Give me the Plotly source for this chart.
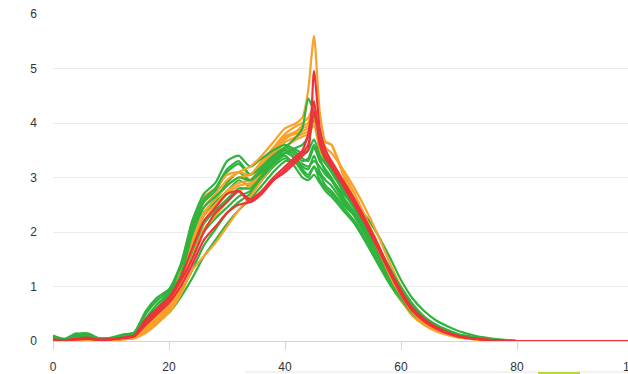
import plotly.graph_objects as go

x_vals = [0, 2, 4, 6, 8, 10, 12, 14, 16, 18, 20, 22, 24, 26, 28, 30, 32, 34, 36, 38, 40, 42,
          43, 44, 45, 46, 47, 48, 50, 52, 54, 56, 58, 60, 62, 64, 66, 68, 70, 72, 74, 76, 78, 80, 100]

green_1 = [0.10, 0.04, 0.14, 0.10, 0.05, 0.06, 0.12, 0.16,
           0.55, 0.80, 0.95, 1.40, 2.20, 2.70, 2.90,
           3.30, 3.40, 3.20, 3.35, 3.50, 3.60, 3.50,
           3.45, 3.50, 3.70, 3.40, 3.25, 3.10,
           2.75, 2.45, 2.10, 1.70, 1.30, 0.95, 0.62, 0.42, 0.28, 0.18, 0.11, 0.07, 0.04, 0.02, 0.01, 0.0, 0.0]
green_2 = [0.08, 0.03, 0.10, 0.12, 0.04, 0.05, 0.09, 0.13,
           0.42, 0.68, 0.88, 1.25, 2.00, 2.55, 2.75,
           3.10, 3.25, 3.05, 3.20, 3.40, 3.55, 3.45,
           3.35, 3.30, 3.55, 3.30, 3.15, 3.00,
           2.65, 2.35, 2.00, 1.62, 1.22, 0.88, 0.58, 0.40, 0.26, 0.17, 0.10, 0.06, 0.03, 0.02, 0.01, 0.0, 0.0]
green_3 = [0.05, 0.02, 0.08, 0.09, 0.03, 0.04, 0.08, 0.12,
           0.35, 0.60, 0.80, 1.15, 1.80, 2.30, 2.55,
           2.75, 2.95, 2.85, 3.05, 3.30, 3.45, 3.35,
           3.20, 3.15, 3.40, 3.10, 2.95, 2.85,
           2.55, 2.30, 1.95, 1.58, 1.20, 0.85, 0.55, 0.37, 0.24, 0.15, 0.09, 0.05, 0.03, 0.02, 0.01, 0.0, 0.0]
green_4 = [0.03, 0.01, 0.05, 0.06, 0.02, 0.03, 0.06, 0.10,
           0.28, 0.48, 0.62, 0.90, 1.30, 1.75, 2.05,
           2.35, 2.55, 2.70, 2.95, 3.20, 3.35, 3.25,
           3.10, 3.00, 3.20, 3.05, 2.85, 2.75,
           2.50, 2.30, 2.05, 1.72, 1.35, 1.00, 0.68, 0.45, 0.30, 0.20, 0.12, 0.08, 0.04, 0.02, 0.01, 0.0, 0.0]
green_5 = [0.06, 0.02, 0.09, 0.08, 0.03, 0.05, 0.10, 0.13,
           0.40, 0.62, 0.85, 1.20, 1.95, 2.45, 2.65,
           2.85, 3.00, 2.95, 3.15, 3.35, 3.55, 3.75,
           3.90, 4.45, 4.20, 3.70, 3.35, 3.20,
           2.80, 2.50, 2.15, 1.75, 1.35, 0.98, 0.65, 0.44, 0.30, 0.20, 0.12, 0.08, 0.04, 0.02, 0.01, 0.0, 0.0]
green_6 = [0.02, 0.01, 0.04, 0.05, 0.02, 0.02, 0.05, 0.08,
           0.22, 0.40, 0.52, 0.80, 1.15, 1.55, 1.85,
           2.15, 2.40, 2.60, 2.85, 3.10, 3.30, 3.30,
           3.25, 3.20, 3.30, 3.20, 3.05, 2.95,
           2.70, 2.50, 2.28, 1.95, 1.55, 1.12, 0.78, 0.55, 0.38, 0.27, 0.18, 0.12, 0.07, 0.04, 0.02, 0.0, 0.0]
green_7 = [0.09, 0.03, 0.12, 0.14, 0.05, 0.06, 0.11, 0.15,
           0.50, 0.75, 0.92, 1.35, 2.10, 2.60, 2.80,
           3.15, 3.30, 3.05, 3.20, 3.40, 3.50, 3.30,
           3.15, 3.05, 3.20, 2.95, 2.80, 2.70,
           2.45, 2.20, 1.85, 1.48, 1.10, 0.78, 0.50, 0.34, 0.22, 0.14, 0.08, 0.05, 0.03, 0.01, 0.0, 0.0, 0.0]
green_8 = [0.04, 0.02, 0.07, 0.07, 0.03, 0.04, 0.07, 0.11,
           0.32, 0.55, 0.75, 1.05, 1.65, 2.15, 2.40,
           2.60, 2.80, 2.80, 3.00, 3.25, 3.45, 3.55,
           3.60, 3.75, 4.05, 3.60, 3.30, 3.15,
           2.75, 2.42, 2.05, 1.65, 1.25, 0.90, 0.60, 0.40, 0.27, 0.18, 0.11, 0.07, 0.04, 0.02, 0.01, 0.0, 0.0]
green_9 = [0.05, 0.02, 0.06, 0.08, 0.03, 0.03, 0.07, 0.10,
           0.30, 0.50, 0.70, 1.00, 1.55, 2.00, 2.25,
           2.45, 2.65, 2.75, 3.00, 3.25, 3.40, 3.15,
           3.00, 2.95, 3.05, 2.90, 2.75, 2.65,
           2.40, 2.15, 1.80, 1.42, 1.05, 0.74, 0.48, 0.32, 0.21, 0.13, 0.08, 0.05, 0.03, 0.01, 0.0, 0.0, 0.0]
green_10 = [0.07, 0.03, 0.11, 0.10, 0.04, 0.05, 0.09, 0.12,
            0.38, 0.60, 0.82, 1.18, 1.85, 2.35, 2.60,
            2.90, 3.10, 2.95, 3.10, 3.30, 3.50, 3.40,
            3.30, 3.35, 3.60, 3.35, 3.10, 2.95,
            2.60, 2.28, 1.92, 1.55, 1.15, 0.82, 0.54, 0.36, 0.24, 0.15, 0.09, 0.06, 0.03, 0.02, 0.01, 0.0, 0.0]

orange_1 = [0.02, 0.01, 0.03, 0.04, 0.02, 0.02, 0.04, 0.07,
            0.22, 0.42, 0.65, 1.10, 1.90, 2.45, 2.70,
            2.95, 3.10, 3.20, 3.40, 3.65, 3.90, 4.00,
            4.10, 4.60, 5.60, 4.20, 3.65, 3.60,
            3.05, 2.60, 2.15, 1.70, 1.25, 0.85, 0.52, 0.33, 0.21, 0.13, 0.08, 0.05, 0.03, 0.01, 0.0, 0.0, 0.0]
orange_2 = [0.02, 0.01, 0.03, 0.03, 0.02, 0.02, 0.04, 0.06,
            0.20, 0.40, 0.62, 1.05, 1.80, 2.35, 2.60,
            2.85, 3.00, 3.05, 3.30, 3.55, 3.80, 3.95,
            4.00, 4.10, 4.30, 3.70, 3.65, 3.60,
            3.10, 2.70, 2.25, 1.78, 1.30, 0.88, 0.55, 0.35, 0.22, 0.14, 0.08, 0.05, 0.03, 0.01, 0.0, 0.0, 0.0]
orange_3 = [0.03, 0.01, 0.04, 0.05, 0.02, 0.03, 0.05, 0.08,
            0.25, 0.45, 0.70, 1.30, 2.20, 2.65, 2.80,
            3.05, 3.10, 3.05, 3.25, 3.50, 3.75, 3.85,
            3.90, 3.95, 4.10, 3.60, 3.40, 3.25,
            2.90, 2.55, 2.15, 1.70, 1.22, 0.80, 0.48, 0.30, 0.19, 0.12, 0.07, 0.04, 0.02, 0.01, 0.0, 0.0, 0.0]
orange_4 = [0.01, 0.0, 0.02, 0.03, 0.01, 0.02, 0.03, 0.05,
            0.15, 0.32, 0.52, 0.85, 1.30, 1.55, 1.80,
            2.10, 2.40, 2.65, 2.95, 3.25, 3.55, 3.70,
            3.75, 3.80, 3.95, 3.50, 3.30, 3.20,
            2.85, 2.50, 2.10, 1.65, 1.20, 0.80, 0.50, 0.32, 0.20, 0.12, 0.07, 0.04, 0.02, 0.01, 0.0, 0.0, 0.0]
orange_5 = [0.02, 0.01, 0.03, 0.04, 0.02, 0.02, 0.04, 0.06,
            0.18, 0.36, 0.58, 1.00, 1.70, 2.20, 2.45,
            2.70, 2.85, 2.90, 3.15, 3.45, 3.70, 3.85,
            3.95, 4.00, 4.35, 3.75, 3.45, 3.30,
            2.95, 2.60, 2.20, 1.74, 1.28, 0.86, 0.54, 0.34, 0.21, 0.13, 0.08, 0.05, 0.03, 0.01, 0.0, 0.0, 0.0]
orange_6 = [0.02, 0.01, 0.03, 0.04, 0.02, 0.02, 0.04, 0.07,
            0.20, 0.38, 0.60, 1.08, 1.85, 2.30, 2.50,
            2.75, 2.90, 2.95, 3.20, 3.50, 3.75, 3.80,
            3.85, 3.90, 4.00, 3.80, 3.55, 3.45,
            3.15, 2.80, 2.40, 1.95, 1.45, 1.00, 0.64, 0.42, 0.27, 0.17, 0.10, 0.06, 0.03, 0.02, 0.01, 0.0, 0.0]
orange_7 = [0.01, 0.01, 0.02, 0.03, 0.01, 0.02, 0.03, 0.05,
            0.16, 0.34, 0.55, 0.95, 1.60, 2.05, 2.30,
            2.55, 2.75, 2.85, 3.10, 3.40, 3.65, 3.75,
            3.80, 3.85, 4.15, 3.55, 3.35, 3.20,
            2.85, 2.45, 2.05, 1.60, 1.15, 0.76, 0.46, 0.29, 0.18, 0.11, 0.06, 0.04, 0.02, 0.01, 0.0, 0.0, 0.0]

red_1 = [0.02, 0.01, 0.03, 0.05, 0.02, 0.03, 0.06, 0.09,
         0.35, 0.55, 0.75, 1.10, 1.50, 2.00, 2.35,
         2.55, 2.75, 2.60, 2.75, 2.95, 3.10, 3.30,
         3.40, 3.50, 4.95, 3.90, 3.50, 3.30,
         2.95, 2.60, 2.20, 1.78, 1.32, 0.92, 0.60, 0.40, 0.26, 0.16, 0.09, 0.05, 0.03, 0.01, 0.0, 0.0, 0.0]
red_2 = [0.03, 0.01, 0.04, 0.06, 0.02, 0.03, 0.06, 0.10,
         0.40, 0.60, 0.80, 1.15, 1.70, 2.20, 2.45,
         2.70, 2.75, 2.55, 2.70, 2.95, 3.15, 3.35,
         3.45, 3.60, 4.20, 3.70, 3.40, 3.25,
         2.90, 2.55, 2.15, 1.72, 1.28, 0.88, 0.57, 0.38, 0.25, 0.15, 0.09, 0.05, 0.03, 0.01, 0.0, 0.0, 0.0]
red_3 = [0.02, 0.01, 0.03, 0.04, 0.02, 0.03, 0.05, 0.08,
         0.30, 0.50, 0.70, 1.00, 1.40, 1.85, 2.10,
         2.35, 2.50, 2.55, 2.75, 3.00, 3.20, 3.40,
         3.50, 3.80, 4.40, 3.60, 3.35, 3.20,
         2.85, 2.50, 2.12, 1.70, 1.26, 0.86, 0.55, 0.36, 0.23, 0.14, 0.08, 0.05, 0.03, 0.01, 0.0, 0.0, 0.0]

x_tick_vals = [0, 20, 40, 60, 80]
x_tick_text = ["0", "20", "40", "60", "80"]
y_tick_vals = [0, 1, 2, 3, 4, 5, 6]
y_tick_text = ["0", "1", "2", "3", "4", "5", "6"]
clipped_tick_text = "100"

GREEN = "#2fb33e"
ORANGE = "#f9a22b"
RED = "#ee3239"
LABEL_COLOR = "#333333"
LABEL_FONT = "Liberation Sans, Arial, sans-serif"

series = [
    (green_4, GREEN), (green_6, GREEN), (green_9, GREEN), (orange_4, ORANGE),
    (green_3, GREEN), (orange_7, ORANGE), (green_8, GREEN), (orange_5, ORANGE),
    (green_10, GREEN), (orange_6, ORANGE), (green_2, GREEN), (orange_3, ORANGE),
    (green_7, GREEN), (orange_2, ORANGE), (green_1, GREEN), (orange_1, ORANGE),
    (green_5, GREEN), (red_3, RED), (red_2, RED), (red_1, RED),
]

fig = go.Figure()
for ys, col in series:
    fig.add_trace(go.Scatter(
        x=x_vals, y=ys, mode="lines",
        line=dict(color=col, width=2.2, shape="spline", smoothing=0.6),
        showlegend=False, hoverinfo="skip",
    ))

W, H = 628, 374
L, R, T, B = 53, 0, 14, 33
x_scale = 5.8
x_max = (W - L) / x_scale

fig.update_layout(
    width=W, height=H,
    margin=dict(l=L, r=R, t=T, b=B),
    paper_bgcolor="white", plot_bgcolor="white",
    font=dict(family=LABEL_FONT, size=12, color=LABEL_COLOR),
    xaxis=dict(
        range=[0, x_max], tickvals=x_tick_vals, ticktext=x_tick_text,
        showgrid=False, zeroline=False,
        showline=True, linecolor="#ccd6eb", linewidth=1,
        ticks="outside", ticklen=8, tickcolor="#ccd6eb", tickwidth=1,
        ticklabelstandoff=7,
    ),
    yaxis=dict(
        range=[0, 6], tickvals=y_tick_vals, ticktext=y_tick_text,
        showgrid=True, gridcolor="#ebebeb", gridwidth=1, zeroline=False,
        showline=False, ticks="", ticklabelstandoff=15,
    ),
)

plot_w = W - L - R
plot_h = H - T - B

def px_to_paper_x(px):
    return (px - L) / plot_w

def px_to_paper_y(py):
    return (H - B - py) / plot_h

fig.add_annotation(
    xref="paper", yref="paper",
    x=px_to_paper_x(L + 100 * x_scale), y=px_to_paper_y(367),
    text=clipped_tick_text, showarrow=False,
    xanchor="center", yanchor="middle",
    font=dict(family=LABEL_FONT, size=12, color=LABEL_COLOR),
)
fig.add_shape(type="line", xref="paper", yref="paper",
              x0=px_to_paper_x(245), x1=1.0, y0=px_to_paper_y(372), y1=px_to_paper_y(372),
              line=dict(color="#e4e4e4", width=1))
fig.add_shape(type="rect", xref="paper", yref="paper",
              x0=px_to_paper_x(538), x1=px_to_paper_x(580),
              y0=px_to_paper_y(380), y1=px_to_paper_y(372),
              line=dict(width=0), fillcolor="#b9d640")

fig.write_html("out.html")
